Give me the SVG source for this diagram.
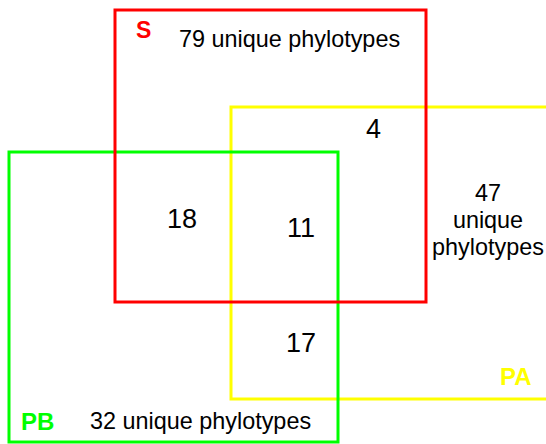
<svg xmlns="http://www.w3.org/2000/svg" width="546" height="444" viewBox="0 0 546 444">
<style>
.box{fill:none;stroke-width:3}
.t{font-family:"Liberation Sans",Arial,sans-serif;font-size:23.4px;fill:#000}
.n{font-family:"Liberation Sans",Arial,sans-serif;font-size:27px;fill:#000}
.lbl{font-family:"Liberation Sans",Arial,sans-serif;font-size:24px;font-weight:bold}
</style>
<rect width="546" height="444" fill="#fff"/>
<g id="PA">
<rect class="box" x="231" y="107" width="340" height="292" stroke="#ffff00"/>
<text class="lbl" x="500" y="385" fill="#ffff00">PA</text>
<text class="t" x="488" y="201" text-anchor="middle">47</text>
<text class="t" x="488" y="228" text-anchor="middle">unique</text>
<text class="t" x="488" y="255" text-anchor="middle">phylotypes</text>
</g>
<g id="PB">
<rect class="box" x="9" y="152" width="329" height="290" stroke="#00ff00"/>
<text class="lbl" x="21" y="430" fill="#00ff00">PB</text>
<text class="t" x="90" y="429">32 unique phylotypes</text>
</g>
<g id="S">
<rect class="box" x="115" y="10" width="311" height="292" stroke="#ff0000"/>
<text class="lbl" x="136" y="38" fill="#ff0000" style="font-size:23px">S</text>
<text class="t" x="179" y="47">79 unique phylotypes</text>
</g>
<g id="overlaps">
<text class="n" x="366" y="138">4</text>
<text class="n" x="167" y="228">18</text>
<text class="n" x="287" y="237">11</text>
<text class="n" x="286" y="352">17</text>
</g>
<g id="connectors"></g>
</svg>
